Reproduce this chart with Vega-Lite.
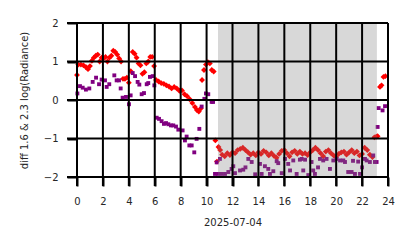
{
  "$schema": "https://vega.github.io/schema/vega-lite/v6.json",
  "width": 311,
  "height": 154,
  "autosize": "none",
  "padding": {"left": 77, "top": 23, "right": 26, "bottom": 71},
  "background": "white",
  "config": {
    "view": {"stroke": null},
    "font": "DejaVu Sans",
    "axis": {
      "domain": false,
      "grid": false,
      "ticks": true,
      "tickColor": "black",
      "tickWidth": 2,
      "labelFontSize": 10,
      "labelColor": "#262626",
      "labelFlush": false,
      "labelOverlap": false,
      "titleFontSize": 10,
      "titleFontWeight": "normal",
      "titleColor": "#262626"
    },
    "axisX": {"tickSize": 9, "labelPadding": 10, "titlePadding": 11},
    "axisY": {"tickSize": 10, "labelPadding": 9, "titlePadding": 14}
  },
  "datasets": {
    "red": [
      {"t": 0.0, "v": 0.65}, {"t": 0.1, "v": 0.92}, {"t": 0.3, "v": 0.92}, {"t": 0.5, "v": 0.9},
      {"t": 0.7, "v": 0.85}, {"t": 0.85, "v": 0.8}, {"t": 1.0, "v": 0.88}, {"t": 1.15, "v": 1.02},
      {"t": 1.3, "v": 1.1}, {"t": 1.45, "v": 1.15}, {"t": 1.6, "v": 1.18}, {"t": 1.75, "v": 1.0},
      {"t": 1.9, "v": 1.1}, {"t": 2.05, "v": 1.08}, {"t": 2.2, "v": 1.12}, {"t": 2.35, "v": 1.0},
      {"t": 2.5, "v": 1.1}, {"t": 2.65, "v": 1.15}, {"t": 2.8, "v": 1.28}, {"t": 2.95, "v": 1.25},
      {"t": 3.1, "v": 1.18}, {"t": 3.25, "v": 1.08}, {"t": 3.4, "v": 1.0}, {"t": 3.55, "v": 0.55},
      {"t": 3.7, "v": 0.55}, {"t": 3.85, "v": 0.58}, {"t": 4.0, "v": 0.45}, {"t": 4.15, "v": 0.75},
      {"t": 4.3, "v": 1.25}, {"t": 4.45, "v": 1.2}, {"t": 4.6, "v": 1.1}, {"t": 4.75, "v": 0.95},
      {"t": 4.9, "v": 0.9}, {"t": 5.05, "v": 0.68}, {"t": 5.2, "v": 0.72}, {"t": 5.35, "v": 0.95},
      {"t": 5.5, "v": 1.0}, {"t": 5.65, "v": 1.12}, {"t": 5.8, "v": 1.12}, {"t": 5.95, "v": 0.88},
      {"t": 6.1, "v": 0.52}, {"t": 6.3, "v": 0.48}, {"t": 6.5, "v": 0.44}, {"t": 6.7, "v": 0.42},
      {"t": 6.9, "v": 0.38}, {"t": 7.1, "v": 0.35}, {"t": 7.3, "v": 0.3}, {"t": 7.5, "v": 0.34},
      {"t": 7.7, "v": 0.3}, {"t": 7.9, "v": 0.24}, {"t": 8.1, "v": 0.25}, {"t": 8.3, "v": 0.15},
      {"t": 8.5, "v": 0.1}, {"t": 8.7, "v": 0.02}, {"t": 8.9, "v": -0.08}, {"t": 9.1, "v": -0.18},
      {"t": 9.25, "v": -0.26}, {"t": 9.4, "v": -0.3}, {"t": 9.55, "v": -0.22}, {"t": 9.65, "v": 0.52},
      {"t": 9.8, "v": 0.78}, {"t": 9.95, "v": 0.92}, {"t": 10.1, "v": 0.98}, {"t": 10.25, "v": 0.95},
      {"t": 10.4, "v": 0.78}, {"t": 10.55, "v": 0.74}, {"t": 10.68, "v": -1.05}, {"t": 10.8, "v": -1.6},
      {"t": 10.92, "v": -1.22}, {"t": 11.05, "v": -1.3}, {"t": 11.2, "v": -1.42}, {"t": 11.4, "v": -1.46},
      {"t": 11.6, "v": -1.38}, {"t": 11.8, "v": -1.43}, {"t": 12.0, "v": -1.36}, {"t": 12.2, "v": -1.38},
      {"t": 12.4, "v": -1.3}, {"t": 12.6, "v": -1.27}, {"t": 12.8, "v": -1.24}, {"t": 13.0, "v": -1.3},
      {"t": 13.2, "v": -1.36}, {"t": 13.4, "v": -1.42}, {"t": 13.6, "v": -1.38}, {"t": 13.8, "v": -1.44},
      {"t": 14.0, "v": -1.36}, {"t": 14.2, "v": -1.4}, {"t": 14.4, "v": -1.32}, {"t": 14.6, "v": -1.36},
      {"t": 14.8, "v": -1.44}, {"t": 15.0, "v": -1.38}, {"t": 15.2, "v": -1.45}, {"t": 15.4, "v": -1.5},
      {"t": 15.6, "v": -1.4}, {"t": 15.8, "v": -1.32}, {"t": 16.0, "v": -1.3}, {"t": 16.2, "v": -1.38},
      {"t": 16.4, "v": -1.46}, {"t": 16.6, "v": -1.36}, {"t": 16.8, "v": -1.32}, {"t": 17.0, "v": -1.4},
      {"t": 17.2, "v": -1.34}, {"t": 17.4, "v": -1.4}, {"t": 17.6, "v": -1.38}, {"t": 17.8, "v": -1.43},
      {"t": 18.0, "v": -1.36}, {"t": 18.2, "v": -1.3}, {"t": 18.4, "v": -1.24}, {"t": 18.6, "v": -1.3},
      {"t": 18.8, "v": -1.38}, {"t": 19.0, "v": -1.46}, {"t": 19.2, "v": -1.34}, {"t": 19.4, "v": -1.3},
      {"t": 19.6, "v": -1.38}, {"t": 19.8, "v": -1.44}, {"t": 20.0, "v": -1.48}, {"t": 20.2, "v": -1.4},
      {"t": 20.4, "v": -1.36}, {"t": 20.6, "v": -1.34}, {"t": 20.8, "v": -1.42}, {"t": 21.0, "v": -1.36},
      {"t": 21.2, "v": -1.3}, {"t": 21.4, "v": -1.38}, {"t": 21.6, "v": -1.34}, {"t": 21.8, "v": -1.44},
      {"t": 22.0, "v": -1.4}, {"t": 22.2, "v": -1.24}, {"t": 22.4, "v": -1.3}, {"t": 22.6, "v": -1.42},
      {"t": 22.8, "v": -1.48}, {"t": 22.95, "v": -0.97}, {"t": 23.1, "v": -0.95}, {"t": 23.2, "v": -0.94},
      {"t": 23.38, "v": 0.34}, {"t": 23.5, "v": 0.38}, {"t": 23.65, "v": 0.6}, {"t": 23.8, "v": 0.62}
    ],
    "purple": [
      {"t": 0.03, "v": 0.17}, {"t": 0.23, "v": 0.36}, {"t": 0.44, "v": 0.32}, {"t": 0.69, "v": 0.27},
      {"t": 0.95, "v": 0.3}, {"t": 1.21, "v": 0.47}, {"t": 1.47, "v": 0.58}, {"t": 1.7, "v": 0.41},
      {"t": 1.9, "v": 0.53}, {"t": 2.16, "v": 0.51}, {"t": 2.29, "v": 0.34}, {"t": 2.49, "v": 0.41},
      {"t": 2.88, "v": 0.64}, {"t": 3.06, "v": 0.51}, {"t": 3.24, "v": 0.51}, {"t": 3.37, "v": 0.3},
      {"t": 3.52, "v": 0.06}, {"t": 3.78, "v": 0.08}, {"t": 4.01, "v": -0.11}, {"t": 4.14, "v": 0.12},
      {"t": 4.3, "v": 0.7}, {"t": 4.48, "v": 0.62}, {"t": 4.68, "v": 0.47}, {"t": 4.81, "v": 0.4},
      {"t": 4.99, "v": 0.15}, {"t": 5.17, "v": 0.18}, {"t": 5.38, "v": 0.41}, {"t": 5.5, "v": 0.44},
      {"t": 5.63, "v": 0.6}, {"t": 5.84, "v": 0.62}, {"t": 5.97, "v": 0.38}, {"t": 6.15, "v": -0.46},
      {"t": 6.33, "v": -0.49}, {"t": 6.53, "v": -0.55}, {"t": 6.71, "v": -0.62}, {"t": 6.87, "v": -0.6},
      {"t": 7.05, "v": -0.63}, {"t": 7.25, "v": -0.66}, {"t": 7.43, "v": -0.66}, {"t": 7.64, "v": -0.69},
      {"t": 7.82, "v": -0.77}, {"t": 8.15, "v": -0.79}, {"t": 8.33, "v": -1.05}, {"t": 8.46, "v": -0.95},
      {"t": 8.67, "v": -1.18}, {"t": 8.85, "v": -1.18}, {"t": 9.05, "v": -1.36}, {"t": 9.23, "v": -1.01},
      {"t": 9.44, "v": -0.75}, {"t": 9.62, "v": -0.17}, {"t": 9.83, "v": 0.03}, {"t": 9.95, "v": 0.17},
      {"t": 10.13, "v": 0.15}, {"t": 10.39, "v": -0.05}, {"t": 10.5, "v": -0.05}, {"t": 10.65, "v": -1.92},
      {"t": 10.78, "v": -1.62}, {"t": 10.9, "v": -1.92}, {"t": 11.03, "v": -1.53}, {"t": 11.16, "v": -1.92},
      {"t": 11.42, "v": -1.92}, {"t": 11.68, "v": -1.87}, {"t": 11.93, "v": -1.79}, {"t": 12.06, "v": -1.72},
      {"t": 12.19, "v": -1.9}, {"t": 12.58, "v": -1.83}, {"t": 12.83, "v": -1.81}, {"t": 13.0, "v": -1.75},
      {"t": 13.22, "v": -1.53}, {"t": 13.48, "v": -1.61}, {"t": 13.75, "v": -1.93}, {"t": 14.12, "v": -1.66},
      {"t": 14.25, "v": -1.92}, {"t": 14.5, "v": -1.72}, {"t": 14.76, "v": -1.79}, {"t": 14.89, "v": -1.92},
      {"t": 15.15, "v": -1.85}, {"t": 15.41, "v": -1.59}, {"t": 15.53, "v": -1.64}, {"t": 15.8, "v": -1.9},
      {"t": 16.05, "v": -1.53}, {"t": 16.3, "v": -1.66}, {"t": 16.44, "v": -1.83}, {"t": 16.69, "v": -1.57},
      {"t": 16.95, "v": -1.92}, {"t": 17.2, "v": -1.55}, {"t": 17.34, "v": -1.53}, {"t": 17.46, "v": -1.83},
      {"t": 17.6, "v": -1.55}, {"t": 17.85, "v": -1.95}, {"t": 18.1, "v": -1.61}, {"t": 18.23, "v": -1.83},
      {"t": 18.36, "v": -1.92}, {"t": 18.6, "v": -1.75}, {"t": 18.75, "v": -1.53}, {"t": 19.0, "v": -1.57},
      {"t": 19.26, "v": -1.53}, {"t": 19.52, "v": -1.79}, {"t": 19.78, "v": -1.57}, {"t": 20.03, "v": -1.53},
      {"t": 20.3, "v": -1.57}, {"t": 20.55, "v": -1.57}, {"t": 20.68, "v": -1.61}, {"t": 20.93, "v": -1.87},
      {"t": 21.19, "v": -1.87}, {"t": 21.3, "v": -1.58}, {"t": 21.45, "v": -1.92}, {"t": 21.7, "v": -1.6},
      {"t": 21.84, "v": -1.92}, {"t": 22.0, "v": -1.75}, {"t": 22.22, "v": -1.53}, {"t": 22.35, "v": -1.57},
      {"t": 22.6, "v": -1.61}, {"t": 22.86, "v": -1.44}, {"t": 22.99, "v": -1.61}, {"t": 23.12, "v": -1.61},
      {"t": 23.2, "v": -0.7}, {"t": 23.28, "v": -0.21}, {"t": 23.58, "v": -0.27}, {"t": 23.77, "v": -0.16}
    ],
    "night": [{"t": 10.92, "t2": 23.1}],
    "xgrid": [{"t": 0}, {"t": 2}, {"t": 4}, {"t": 6}, {"t": 8}, {"t": 10}, {"t": 12}, {"t": 14}, {"t": 16}, {"t": 18}, {"t": 20}, {"t": 22}, {"t": 24}],
    "ygrid": [{"v": -2}, {"v": -1}, {"v": 0}, {"v": 1}, {"v": 2}]
  },
  "layer": [
    {
      "data": {"name": "red"},
      "mark": {"type": "point", "shape": "diamond", "filled": true, "color": "#ff0000", "size": 34, "opacity": 1},
      "encoding": {
        "x": {"field": "t", "type": "quantitative", "scale": {"domain": [0, 24], "nice": false},
          "axis": {"values": [0, 2, 4, 6, 8, 10, 12, 14, 16, 18, 20, 22, 24], "format": "d", "title": "2025-07-04"}},
        "y": {"field": "v", "type": "quantitative", "scale": {"domain": [-2, 2], "nice": false},
          "axis": {"values": [-2, -1, 0, 1, 2], "format": "d", "title": "diff 1.6 & 2.3  log(Radiance)"}}
      }
    },
    {
      "data": {"name": "purple"},
      "mark": {"type": "square", "color": "#800080", "size": 15, "opacity": 1},
      "encoding": {
        "x": {"field": "t", "type": "quantitative", "scale": {"domain": [0, 24], "nice": false},
          "axis": {"values": [0, 2, 4, 6, 8, 10, 12, 14, 16, 18, 20, 22, 24], "format": "d", "title": "2025-07-04"}},
        "y": {"field": "v", "type": "quantitative", "scale": {"domain": [-2, 2], "nice": false},
          "axis": {"values": [-2, -1, 0, 1, 2], "format": "d", "title": "diff 1.6 & 2.3  log(Radiance)"}}
      }
    },
    {
      "data": {"name": "night"},
      "mark": {"type": "rect", "color": "#808080", "opacity": 0.3, "stroke": "#808080", "strokeWidth": 1},
      "encoding": {
        "x": {"field": "t", "type": "quantitative", "scale": {"domain": [0, 24], "nice": false},
          "axis": {"values": [0, 2, 4, 6, 8, 10, 12, 14, 16, 18, 20, 22, 24], "format": "d", "title": "2025-07-04"}},
        "x2": {"field": "t2"}
      }
    },
    {
      "data": {"name": "xgrid"},
      "mark": {"type": "tick", "orient": "vertical", "color": "black", "opacity": 1, "thickness": 2, "size": 163, "yOffset": 4.5},
      "encoding": {
        "x": {"field": "t", "type": "quantitative", "scale": {"domain": [0, 24], "nice": false},
          "axis": {"values": [0, 2, 4, 6, 8, 10, 12, 14, 16, 18, 20, 22, 24], "format": "d", "title": "2025-07-04"}}
      }
    },
    {
      "data": {"name": "ygrid"},
      "mark": {"type": "tick", "orient": "horizontal", "color": "black", "opacity": 1, "thickness": 2, "size": 321, "xOffset": -5},
      "encoding": {
        "y": {"field": "v", "type": "quantitative", "scale": {"domain": [-2, 2], "nice": false},
          "axis": {"values": [-2, -1, 0, 1, 2], "format": "d", "title": "diff 1.6 & 2.3  log(Radiance)"}}
      }
    }
  ]
}
